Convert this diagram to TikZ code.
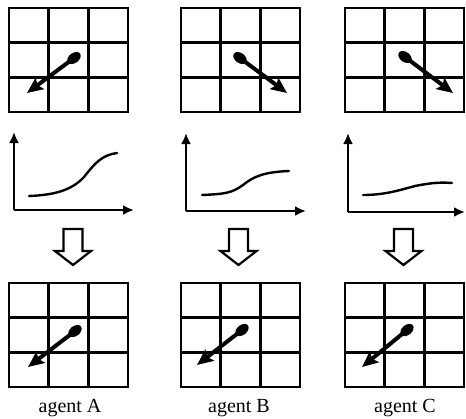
\documentclass[tikz,border=0pt]{standalone}
\usepackage{fontspec}
\setmainfont{Liberation Serif}
\usetikzlibrary{arrows.meta,calc,shapes.geometric}
\tikzset{
  gridline/.style={line width=2.8pt},
  axisline/.style={line width=2.4pt,-{Latex[length=11pt,width=10pt]}},
  curveline/.style={line width=2.4pt,line cap=round},
  needle/.style={line width=4pt,-{Stealth[length=16pt,width=14pt,inset=3pt]}},
  hollow/.style={line width=2.2pt,line join=miter,fill=white},
  agentlabel/.style={font=\fontsize{20}{22}\selectfont,inner sep=0pt,anchor=base}
}
\newcommand{\mygrid}[3]{% name, left, top
  \coordinate (#1) at (#2,#3);
  \draw[gridline] (#2,#3) rectangle ++(119,104);
  \draw[gridline] ($(#2,#3)+(39.67,0)$) -- ++(0,104);
  \draw[gridline] ($(#2,#3)+(79.33,0)$) -- ++(0,104);
  \draw[gridline] ($(#2,#3)+(0,34.67)$) -- ++(119,0);
  \draw[gridline] ($(#2,#3)+(0,69.33)$) -- ++(119,0);
}
\newcommand{\myneedle}[5]{% name, dotx, doty, tipx, tipy
  \coordinate (#1d) at (#2,#3);
  \coordinate (#1t) at (#4,#5);
  \draw[needle] (#1d) -- (#1t);
  \path let \p1=($(#1t)-(#1d)$), \n1={atan2(\y1,\x1)} in
    node[ellipse,fill=black,minimum width=15pt,minimum height=10pt,inner sep=0pt,rotate=\n1] (#1e) at (#1d) {};
}
\newcommand{\myhollow}[2]{% name, center x
  \coordinate (#1) at (#2,229);
  \draw[hollow] ($(#1)+(-9.5,0)$) -- ($(#1)+(9.5,0)$) -- ($(#1)+(9.5,22)$) -- ($(#1)+(18,22)$)
     -- ($(#1)+(0,36)$) -- ($(#1)+(-18,22)$) -- ($(#1)+(-9.5,22)$) -- cycle;
}
\begin{document}
\begin{tikzpicture}[x=1pt,y=-1pt]
\useasboundingbox (0,0) rectangle (466,418);
% top grids
\mygrid{gA}{9}{8}
\mygrid{gB}{181}{8}
\mygrid{gC}{345}{8}
\myneedle{nA}{74}{58}{27}{93}
\myneedle{nB}{240}{58}{287}{93}
\myneedle{nC}{405}{57}{453}{93}
% charts
\coordinate (oA) at (14,210);
\coordinate (oB) at (186,211);
\coordinate (oC) at (348,212);
\draw[axisline] (oA) -- (14,132);
\draw[axisline] (oA) -- (134,210);
\draw[axisline] (oB) -- (186,133);
\draw[axisline] (oB) -- (306,211);
\draw[axisline] (oC) -- (348,133);
\draw[axisline] (oC) -- (465,212);
\draw[curveline] (29,196) .. controls (55,195) and (72,190) .. (84,177) .. controls (95,163) and (102,155) .. (117,153);
\draw[curveline] (202,195) .. controls (225,194) and (232,193) .. (243,185) .. controls (254,176) and (265,172) .. (289,171);
\draw[curveline] (363,195) .. controls (385,195) and (400,190) .. (415,186) .. controls (430,183) and (440,182) .. (452,183);
% hollow arrows
\myhollow{hA}{73}
\myhollow{hB}{238.5}
\myhollow{hC}{403.5}
% bottom grids
\mygrid{bA}{9}{283}
\mygrid{bB}{181}{283}
\mygrid{bC}{345}{283}
\myneedle{mA}{75}{331}{28}{367}
\myneedle{mB}{242}{330}{197}{365}
\myneedle{mC}{407}{330}{362}{367}
% labels
\node[agentlabel] (lA) at (70,412) {agent A};
\node[agentlabel] (lB) at (239,412) {agent B};
\node[agentlabel] (lC) at (405,412) {agent C};
\end{tikzpicture}
\end{document}
